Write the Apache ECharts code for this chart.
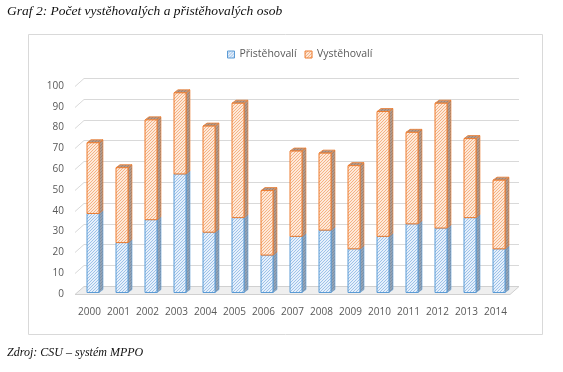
<!DOCTYPE html>
<html>
<head>
<meta charset="utf-8">
<script src="https://cdn.jsdelivr.net/npm/echarts@6/dist/echarts.min.js"></script>
<style>html,body{margin:0;padding:0;background:#fff}#c{width:563px;height:372px}</style>
</head>
<body>
<div id="c"></div>
<script>
const years = ['2000','2001','2002','2003','2004','2005','2006','2007','2008','2009','2010','2011','2012','2013','2014'];
const pristehovali = [38,24,35,57,29,36,18,27,30,21,27,33,31,36,21];
const vystehovali = [34,36,48,39,51,55,31,41,37,40,60,44,60,38,33];
const yTicks = [0,10,20,30,40,50,60,70,80,90,100];
const seriesNames = ['Přistěhovalí','Vystěhovalí'];

function hatch(bg, fg) {
  const c = document.createElement('canvas');
  c.width = 3; c.height = 3;
  const g = c.getContext('2d');
  g.fillStyle = bg; g.fillRect(0,0,3,3);
  g.strokeStyle = fg; g.lineWidth = 0.9;
  g.beginPath();
  g.moveTo(-1,4); g.lineTo(4,-1);
  g.moveTo(-1,1); g.lineTo(1,-1);
  g.moveTo(2,4); g.lineTo(4,2);
  g.stroke();
  return {image: c, repeat: 'repeat'};
}
const blueFront = hatch('#e6f0fb', '#94bbe5');
const blueSide = hatch('#93a3b5', '#7a8ea6');
const orangeFront = hatch('#fde9da', '#f4ab79');
const orangeSide = hatch('#b09a8c', '#a08070');
const blueBorder = '#5b9bd5', orangeBorder = '#ed7d31';

const DX = 9, DY = -8;       // back-plane offset
const BX = 4, BY = -3;       // bar depth
const OFFX = 3.5, OFFY = -1.5;

function gridRender(params, api) {
  const v = api.value(1);
  const bw = api.size([1, 0])[0];
  const p0 = api.coord([0, v]);
  const p1 = api.coord([years.length - 1, v]);
  const xl = p0[0] - bw / 2, xr = p1[0] + bw / 2;
  const y = Math.round(p0[1]) + 0.5;
  if (v === 0) {
    return {
      type: 'polygon',
      shape: {points: [[xl, y], [xr, y], [xr + DX, y + DY], [xl + DX, y + DY]]},
      style: {fill: '#efefef', stroke: '#d0d0d0', lineWidth: 1}
    };
  }
  return {
    type: 'polyline',
    shape: {points: [[xl, y], [xl + DX, y + DY], [xr + DX, y + DY]]},
    style: {fill: null, stroke: '#d9d9d9', lineWidth: 1}
  };
}

function makeBarRender(front, side, border) {
  return function (params, api) {
    const i = api.value(0), v0 = api.value(1), v1 = api.value(2);
    const b = api.coord([i, v0]);
    const t = api.coord([i, v1]);
    const w = 12;
    const cx = b[0] + OFFX;
    const l = cx - w / 2, r = cx + w / 2;
    const yb = b[1] + OFFY, yt = t[1] + OFFY;
    return {
      type: 'group',
      children: [
        {type: 'polygon', shape: {points: [[r, yb], [r + BX, yb + BY], [r + BX, yt + BY], [r, yt]]},
         style: {fill: side, stroke: border, lineWidth: 0.6}},
        {type: 'polygon', shape: {points: [[l, yt], [r, yt], [r + BX, yt + BY], [l + BX, yt + BY]]},
         style: {fill: side, stroke: border, lineWidth: 0.8}},
        {type: 'rect', shape: {x: l, y: yt, width: w, height: yb - yt},
         style: {fill: front, stroke: border, lineWidth: 1}}
      ]
    };
  };
}

const blueData = years.map((y, i) => [i, 0, pristehovali[i]]);
const orangeData = years.map((y, i) => [i, pristehovali[i], pristehovali[i] + vystehovali[i]]);

const chart = echarts.init(document.getElementById('c'), null, {renderer: 'canvas'});
chart.setOption({
  animation: false,
  backgroundColor: '#fff',
  grid: {left: 75, right: 53, top: 86, bottom: 78},
  legend: {
    left: 222, top: 44,
    itemWidth: 7, itemHeight: 7, itemGap: 8,
    icon: 'rect',
    textStyle: {fontFamily: 'Open Sans', fontSize: 10.5, color: '#595959'},
    data: [
      {name: seriesNames[0], itemStyle: {color: blueFront, borderColor: blueBorder, borderWidth: 1}},
      {name: seriesNames[1], itemStyle: {color: orangeFront, borderColor: orangeBorder, borderWidth: 1}}
    ]
  },
  xAxis: {
    type: 'category', data: years,
    axisLine: {show: false}, axisTick: {show: false},
    axisLabel: {interval: 0, fontFamily: 'Open Sans', fontSize: 10, color: '#595959', margin: 13}
  },
  yAxis: {
    type: 'value', min: 0, max: 100, interval: 10,
    axisLine: {show: false}, axisTick: {show: false}, splitLine: {show: false},
    axisLabel: {fontFamily: 'Open Sans', fontSize: 10, color: '#595959', margin: 11}
  },
  graphic: [
    {type: 'rect', shape: {x: 28.5, y: 34.5, width: 514, height: 300}, style: {fill: null, stroke: '#d9d9d9', lineWidth: 1}, z: -1},
    {type: 'text', left: 7, top: 4, style: {text: 'Graf 2: Počet vystěhovalých a přistěhovalých osob', font: 'italic 13.5px "Liberation Serif"', fill: '#111'}},
    {type: 'text', left: 7, top: 347, style: {text: 'Zdroj: CSU – systém MPPO', font: 'italic 12px "Liberation Serif"', fill: '#111'}}
  ],
  series: [
    {type: 'custom', name: '_grid', silent: true, z: 0, renderItem: gridRender,
     data: yTicks.map(v => [0, v]), encode: {x: 0, y: 1}},
    {type: 'custom', name: seriesNames[0], z: 2, renderItem: makeBarRender(blueFront, blueSide, blueBorder),
     itemStyle: {color: blueFront, borderColor: blueBorder},
     data: blueData, encode: {x: 0, y: [1, 2]}},
    {type: 'custom', name: seriesNames[1], z: 3, renderItem: makeBarRender(orangeFront, orangeSide, orangeBorder),
     itemStyle: {color: orangeFront, borderColor: orangeBorder},
     data: orangeData, encode: {x: 0, y: [1, 2]}}
  ]
});
</script>
</body>
</html>
